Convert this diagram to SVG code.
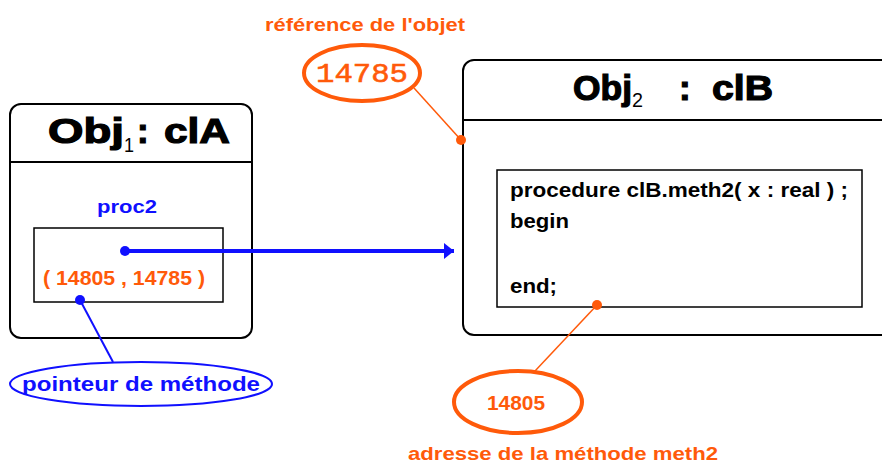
<svg xmlns="http://www.w3.org/2000/svg" width="882" height="465" viewBox="0 0 882 465">
<style>
.box{fill:#fff;stroke:#000;stroke-width:2}
.inner{fill:#fff;stroke:#000;stroke-width:1.5}
.title{font-family:"Liberation Sans",Arial,sans-serif;font-weight:bold;font-size:35px;fill:#000;stroke:#000;stroke-width:1.2}
.sub{font-family:"Liberation Sans",Arial,sans-serif;font-size:21px;fill:#000}
.code{font-family:"Liberation Sans",Arial,sans-serif;font-weight:bold;font-size:20px;fill:#000}
.or{font-family:"Liberation Sans",Arial,sans-serif;font-weight:bold;fill:#ff5a0a}
.bl{font-family:"Liberation Sans",Arial,sans-serif;font-weight:bold;fill:#1010ff}
</style>
<defs>
<marker id="arr" viewBox="0 0 10 16" refX="10" refY="8" markerWidth="10" markerHeight="16" markerUnits="userSpaceOnUse" orient="auto">
<path d="M0,0 L10,8 L0,16 Z" fill="#1010ff"/>
</marker>
</defs>
<g id="obj1">
<rect class="box" x="10" y="104" width="242" height="234" rx="11"/>
<line x1="10" y1="162" x2="252" y2="162" stroke="#000" stroke-width="2"/>
<text class="title" x="48" y="143" textLength="76" lengthAdjust="spacingAndGlyphs">Obj</text>
<text class="sub" x="124" y="152" textLength="10" lengthAdjust="spacingAndGlyphs">1</text>
<text class="title" x="137" y="143">:</text>
<text class="title" x="164" y="143" textLength="66" lengthAdjust="spacingAndGlyphs">clA</text>
<text class="bl" x="127" y="213" font-size="18" text-anchor="middle" textLength="60" lengthAdjust="spacingAndGlyphs">proc2</text>
<rect class="inner" x="34" y="228" width="189" height="74"/>
<text class="or" x="43" y="285" font-size="20" textLength="162" lengthAdjust="spacingAndGlyphs">( 14805 , 14785 )</text>
</g>
<g id="obj2">
<rect class="box" x="463" y="60" width="440" height="275" rx="11"/>
<line x1="463" y1="120" x2="882" y2="120" stroke="#000" stroke-width="2"/>
<text class="title" x="573" y="100" textLength="59" lengthAdjust="spacingAndGlyphs">Obj</text>
<text class="sub" x="632" y="107" textLength="11" lengthAdjust="spacingAndGlyphs">2</text>
<text class="title" x="679" y="100">:</text>
<text class="title" x="712" y="100" textLength="61" lengthAdjust="spacingAndGlyphs">clB</text>
<rect class="inner" x="497" y="170" width="365" height="137"/>
<text class="code" x="510" y="197" textLength="338" lengthAdjust="spacingAndGlyphs">procedure  clB.meth2( x : real ) ;</text>
<text class="code" x="510" y="228" textLength="59" lengthAdjust="spacingAndGlyphs">begin</text>
<text class="code" x="510" y="293" textLength="47" lengthAdjust="spacingAndGlyphs">end;</text>
</g>
<g id="ref-label">
<text class="or" x="265" y="31" font-size="19" textLength="200" lengthAdjust="spacingAndGlyphs">référence de l'objet</text>
<ellipse cx="362" cy="73" rx="58" ry="28" fill="#fff" stroke="#ff5a0a" stroke-width="4"/>
<text x="362" y="82" font-family="'Liberation Mono','Courier New',monospace" font-size="28" fill="#ff5a0a" stroke="#ff5a0a" stroke-width="0.6" text-anchor="middle" textLength="92" lengthAdjust="spacingAndGlyphs">14785</text>
</g>
<g id="ptr-label">
<ellipse cx="141" cy="384" rx="131" ry="22" fill="#fff" stroke="#1010ff" stroke-width="2"/>
<text class="bl" x="141" y="391" font-size="21" text-anchor="middle" textLength="238" lengthAdjust="spacingAndGlyphs">pointeur de méthode</text>
</g>
<g id="addr-label">
<ellipse cx="518" cy="402" rx="64" ry="31" fill="#fff" stroke="#ff5a0a" stroke-width="4"/>
<text class="or" x="516" y="410" font-size="20" text-anchor="middle" textLength="58" lengthAdjust="spacingAndGlyphs">14805</text>
<text class="or" x="408" y="460" font-size="19" textLength="310" lengthAdjust="spacingAndGlyphs">adresse de la méthode meth2</text>
</g>
<g id="connectors">
<line x1="125" y1="251" x2="454" y2="251" stroke="#1010ff" stroke-width="4" marker-end="url(#arr)"/>
<circle cx="125" cy="251" r="5" fill="#1010ff"/>
<line x1="80" y1="300" x2="113" y2="362" stroke="#1010ff" stroke-width="2"/>
<circle cx="80" cy="300" r="5" fill="#1010ff"/>
<line x1="414" y1="88" x2="461" y2="140" stroke="#ff5a0a" stroke-width="1.5"/>
<circle cx="461" cy="140" r="5" fill="#ff5a0a"/>
<line x1="597" y1="305" x2="535" y2="371" stroke="#ff5a0a" stroke-width="1.5"/>
<circle cx="597" cy="305" r="5" fill="#ff5a0a"/>
</g>
</svg>
